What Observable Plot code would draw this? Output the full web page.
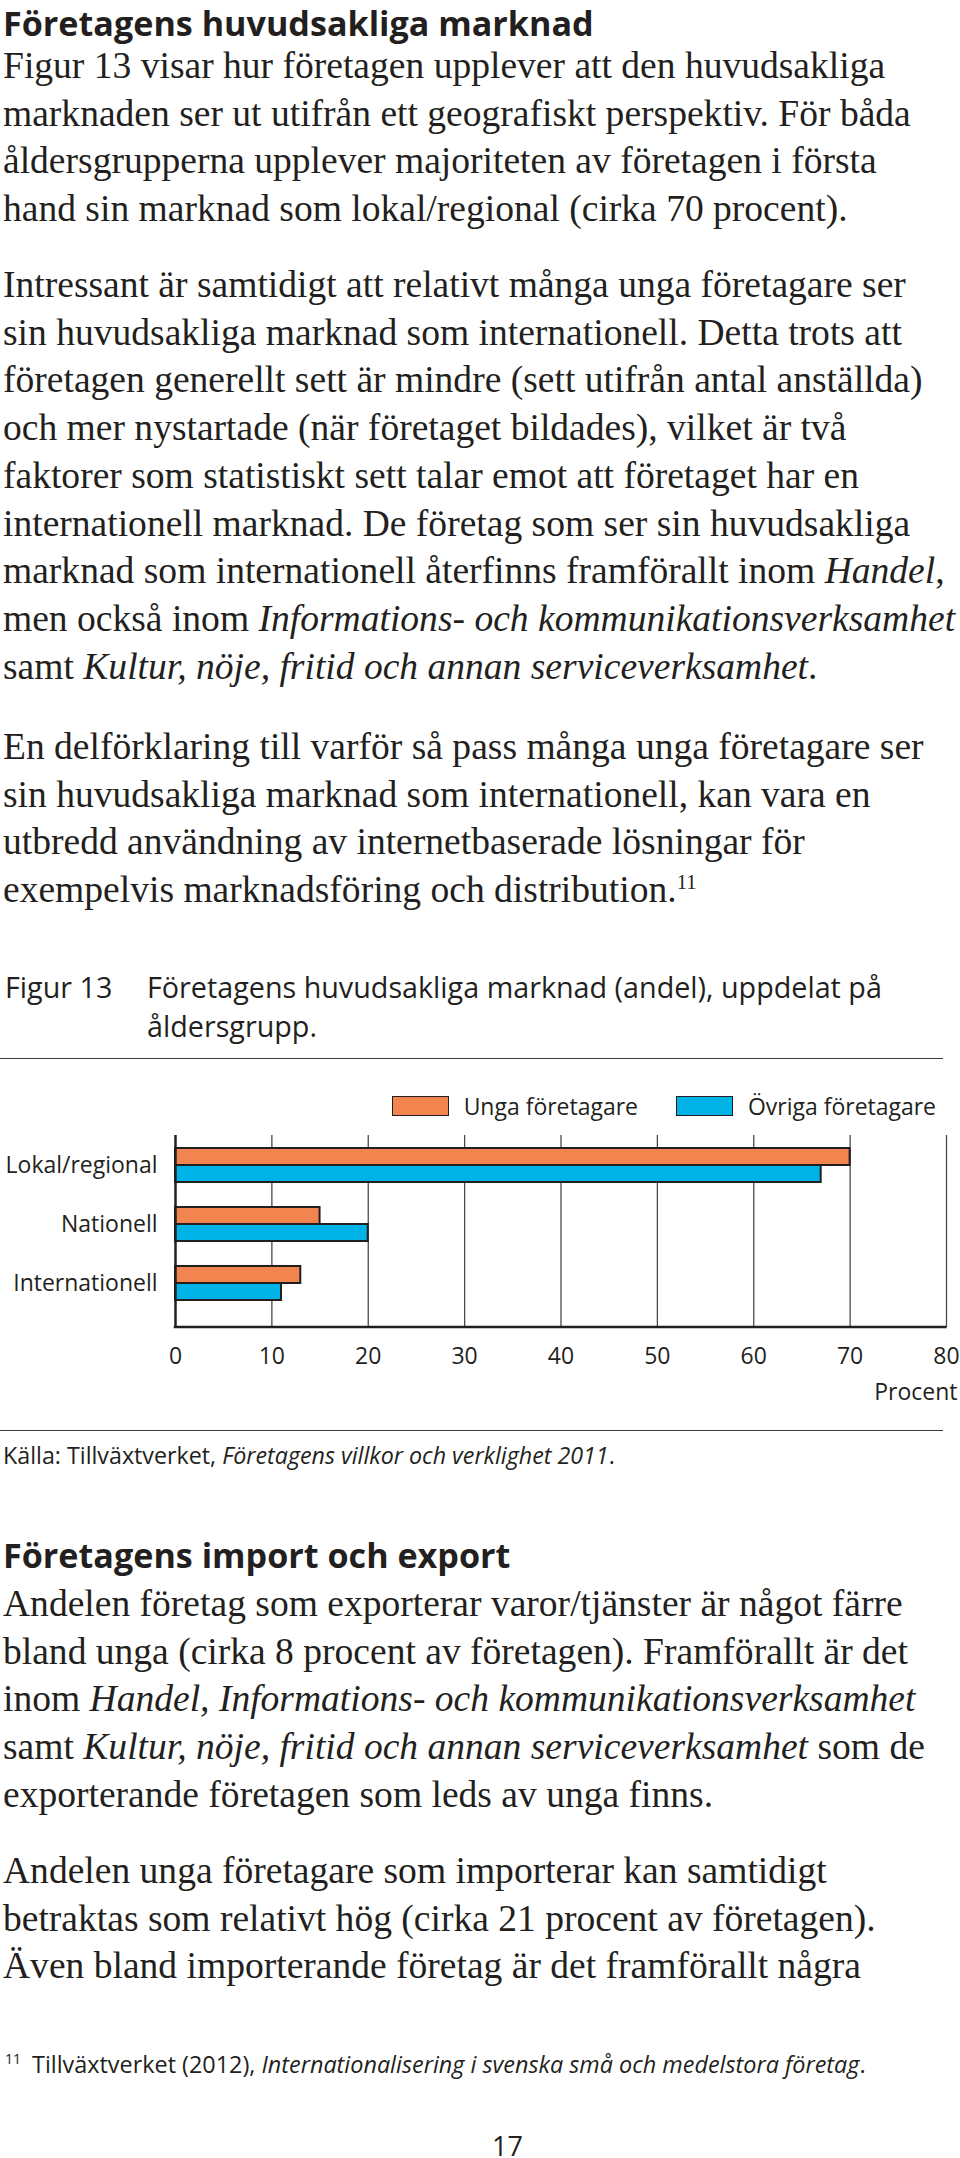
<!DOCTYPE html>
<html><head><meta charset="utf-8">
<script src="https://cdn.jsdelivr.net/npm/d3@7"></script>
<script src="https://cdn.jsdelivr.net/npm/@observablehq/plot@0.6"></script>
<style>
html,body{margin:0;padding:0;background:#fff;}
#page{position:relative;width:960px;height:2158px;background:#fff;color:#231f20;}
.abs{position:absolute;left:3px;white-space:nowrap;margin:0;}
.serif{font-family:"Liberation Serif","Times New Roman",serif;}
.sans{font-family:"Open Sans","Liberation Sans",Arial,sans-serif;line-height:1;}
.title{font-weight:700;}
.rule{position:absolute;left:0;width:943px;height:0;border-top:1.5px solid #3a3a3a;}
sup{font-size:0.55em;vertical-align:0.65em;line-height:0;}
#legend{position:absolute;right:24px;display:flex;align-items:center;height:20px;}
#legend .item{display:flex;align-items:center;}
#legend .box{width:57px;height:20px;box-sizing:border-box;border:1.6px solid #231f20;}
#legend .lab{margin-left:15px;line-height:1;}
</style></head><body>
<div id="page">
  <div id="t1" class="abs sans title">Företagens huvudsakliga marknad</div>
  <div id="p1" class="abs serif">Figur 13 visar hur företagen upplever att den huvudsakliga<br>marknaden ser ut utifrån ett geografiskt perspektiv. För båda<br>åldersgrupperna upplever majoriteten av företagen i första<br>hand sin marknad som lokal/regional (cirka 70 procent).</div>
  <div id="p2" class="abs serif">Intressant är samtidigt att relativt många unga företagare ser<br>sin huvudsakliga marknad som internationell. Detta trots att<br>företagen generellt sett är mindre (sett utifrån antal anställda)<br>och mer nystartade (när företaget bildades), vilket är två<br>faktorer som statistiskt sett talar emot att företaget har en<br>internationell marknad. De företag som ser sin huvudsakliga<br>marknad som internationell återfinns framförallt inom <i>Handel</i>,<br>men också inom <i>Informations- och kommunikationsverksamhet</i><br>samt <i>Kultur, nöje, fritid och annan serviceverksamhet</i>.</div>
  <div id="p3" class="abs serif">En delförklaring till varför så pass många unga företagare ser<br>sin huvudsakliga marknad som internationell, kan vara en<br>utbredd användning av internetbaserade lösningar för<br>exempelvis marknadsföring och distribution.<sup>11</sup></div>
  <div id="capA" class="abs sans">Figur 13</div>
  <div id="capB" class="abs sans">Företagens huvudsakliga marknad (andel), uppdelat på<br>åldersgrupp.</div>
  <div id="rule1" class="rule"></div>
  <div id="legend" class="sans"></div>
  <div id="chart" style="position:absolute;left:0;top:1120px;"></div>
  <div id="rule2" class="rule"></div>
  <div id="src" class="abs sans">Källa: Tillväxtverket, <i>Företagens villkor och verklighet 2011</i>.</div>
  <div id="t2" class="abs sans title">Företagens import och export</div>
  <div id="p4" class="abs serif">Andelen företag som exporterar varor/tjänster är något färre<br>bland unga (cirka 8 procent av företagen). Framförallt är det<br>inom <i>Handel, Informations- och kommunikationsverksamhet</i><br>samt <i>Kultur, nöje, fritid och annan serviceverksamhet</i> som de<br>exporterande företagen som leds av unga finns.</div>
  <div id="p5" class="abs serif">Andelen unga företagare som importerar kan samtidigt<br>betraktas som relativt hög (cirka 21 procent av företagen).<br>Även bland importerande företag är det framförallt några</div>
  <div id="fnN" class="abs sans">11</div>
  <div id="fn" class="abs sans">Tillväxtverket (2012), <i>Internationalisering i svenska små och medelstora företag</i>.</div>
  <div id="pg" class="abs sans">17</div>
</div>
<script>
// ---- chart data ----
const categories = ["Lokal/regional", "Nationell", "Internationell"];
const seriesNames = ["Unga företagare", "Övriga företagare"];
const ungaValues = [70, 15, 13];
const ovrigaValues = [67, 20, 11];
const xTickValues = [0, 10, 20, 30, 40, 50, 60, 70, 80];
const seriesColors = ["#F2844F", "#00B3E6"];
const xAxisLabel = "Procent";

const SERIF = '"Liberation Serif","Times New Roman",serif';
const SANS = '"Open Sans","Liberation Sans",Arial,sans-serif';

function textWidth(html, font) {
  const s = document.createElement("span");
  s.style.cssText = "position:absolute;visibility:hidden;white-space:nowrap;left:0;top:0;font:" + font;
  s.innerHTML = html;
  document.body.appendChild(s);
  const w = s.getBoundingClientRect().width;
  s.remove();
  return w;
}
function fitSize(htmls, family, weight, target) {
  let w = 0;
  htmls.forEach(h => w += textWidth(h, weight + " 100px " + family));
  return 100 * target / w;
}
const $ = id => document.getElementById(id);

function build() {
  // body text: fit on several lines with widths
  const fitLines = [
    ["Figur 13 visar hur företagen upplever att den huvudsakliga", 920],
    ["marknaden ser ut utifrån ett geografiskt perspektiv. För båda", 958],
    ["åldersgrupperna upplever majoriteten av företagen i första", 908],
    ["Intressant är samtidigt att relativt många unga företagare ser", 935],
    ["företagen generellt sett är mindre (sett utifrån antal anställda)", 949],
    ["men också inom <i>Informations- och kommunikationsverksamhet</i>", 949],
    ["En delförklaring till varför så pass många unga företagare ser", 924],
    ["inom <i>Handel, Informations- och kommunikationsverksamhet</i>", 921],
    ["samt <i>Kultur, nöje, fritid och annan serviceverksamhet</i> som de", 915]
  ];
  let sB = fitSize(fitLines.map(d => d[0]), SERIF, 400, d3.sum(fitLines, d => d[1]));
  // make sure no body line runs off the page
  let maxW = 0;
  ["p1", "p2", "p3", "p4", "p5"].forEach(id => {
    $(id).innerHTML.split("<br>").forEach(line => {
      maxW = Math.max(maxW, textWidth(line, "400 " + sB + "px " + SERIF));
    });
  });
  if (maxW > 952) sB *= 952 / maxW;
  const LB = 47.7;
  const body = (id, c) => {
    const el = $(id);
    el.style.fontSize = sB + "px";
    el.style.lineHeight = LB + "px";
    el.style.top = Math.round(c - LB / 2 - 0.109 * sB) + "px";
  };
  body("p1", 70); body("p2", 289); body("p3", 751); body("p4", 1608); body("p5", 1875);

  const sans = (id, c, s, left) => {
    const el = $(id);
    el.style.fontSize = s + "px";
    el.style.lineHeight = "1.4";
    el.style.top = Math.round(c - 0.78 * s) + "px";
    if (left != null) el.style.left = left + "px";
  };
  const title = (id, c, s, k) => {
    const el = $(id);
    el.style.fontSize = s + "px";
    el.style.lineHeight = String(k);
    el.style.top = Math.max(0, Math.round(c - (k / 2 + 0.078) * s)) + "px";
    el.style.left = "3px";
  };
  const sT = fitSize(["Företagens huvudsakliga marknad"], SANS, 700, 591);
  title("t1", 20, sT, 1.4); title("t2", 1558, sT, 1.55);

  const sC = fitSize(["Företagens huvudsakliga marknad (andel), uppdelat på"], SANS, 400, 735);
  sans("capA", 989, sC, 5);
  const cb = $("capB");
  cb.style.fontSize = sC + "px"; cb.style.lineHeight = "39px";
  cb.style.top = Math.round(989 - 19.5 - 0.078 * sC) + "px"; cb.style.left = "147px";

  $("rule1").style.top = "1058px";
  $("rule2").style.top = "1430px";

  const sS = fitSize(["Källa: Tillväxtverket, <i>Företagens villkor och verklighet 2011</i>."], SANS, 400, 612);
  sans("src", 1457, sS, 3);
  const sF = fitSize(["Tillväxtverket (2012), <i>Internationalisering i svenska små och medelstora företag</i>."], SANS, 400, 834);
  sans("fn", 2066, sF, 32);
  sans("fnN", 2060, sF * 0.6, 5);
  const pg = $("pg");
  pg.style.fontSize = "27px"; pg.style.lineHeight = "1.4";
  pg.style.top = Math.round(2147 - (0.7 + 0.031) * 27) + "px";
  pg.style.left = Math.round(507 - textWidth("17", "400 27px " + SANS) / 2) + "px";

  // chart font
  const sCh = fitSize(["Lokal/regional"], SANS, 400, 152);

  // legend
  const lg = $("legend");
  lg.style.top = "1096px";
  lg.style.fontSize = sCh + "px";
  seriesNames.forEach((name, i) => {
    const it = document.createElement("div");
    it.className = "item";
    if (i > 0) it.style.marginLeft = "38px";
    const b = document.createElement("div");
    b.className = "box"; b.style.background = seriesColors[i];
    const t = document.createElement("div");
    t.className = "lab"; t.textContent = name;
    it.appendChild(b); it.appendChild(t); lg.appendChild(it);
  });

  const rows = categories.flatMap((c, i) => [
    {category: c, series: seriesNames[0], value: ungaValues[i]},
    {category: c, series: seriesNames[1], value: ovrigaValues[i]}
  ]);

  const chart = Plot.plot({
    width: 960, height: 290,
    marginLeft: 175, marginRight: 14, marginTop: 15, marginBottom: 83,
    style: {fontFamily: SANS, fontSize: sCh + "px", color: "#231f20", background: "transparent", overflow: "visible"},
    x: {domain: [0, 80]},
    y: {domain: categories, range: [28, 180], paddingInner: 0.424, paddingOuter: 0},
    color: {domain: seriesNames, range: seriesColors},
    marks: [
      Plot.ruleX(xTickValues.filter(d => d > 0), {stroke: "#4a4a4a", strokeWidth: 1.3}),
      Plot.barX(rows.filter(d => d.series === seriesNames[0]), {x: "value", y: "category", fill: "series", stroke: "#231f20", strokeWidth: 2, insetBottom: 17}),
      Plot.barX(rows.filter(d => d.series === seriesNames[1]), {x: "value", y: "category", fill: "series", stroke: "#231f20", strokeWidth: 2, insetTop: 17}),
      Plot.ruleX([0], {stroke: "#231f20", strokeWidth: 2.5}),
      (index, scales, values, dimensions) => {
        const y = dimensions.height - dimensions.marginBottom;
        const ln = document.createElementNS("http://www.w3.org/2000/svg", "line");
        ln.setAttribute("x1", scales.x(0) - 1.25);
        ln.setAttribute("x2", scales.x(80) + 0.6);
        ln.setAttribute("y1", y);
        ln.setAttribute("y2", y);
        ln.setAttribute("stroke", "#231f20");
        ln.setAttribute("stroke-width", 2.5);
        return ln;
      },
      Plot.axisY({tickSize: 0, tickPadding: 18, label: null, fontSize: sCh}),
      Plot.axisX({ticks: xTickValues, tickSize: 0, tickPadding: 20, fontSize: sCh,
        label: xAxisLabel, labelAnchor: "right", labelArrow: "none", labelOffset: 72})
    ]
  });
  $("chart").appendChild(chart);
}
if (document.fonts && document.fonts.ready) document.fonts.ready.then(build); else build();
</script>
</body></html>
